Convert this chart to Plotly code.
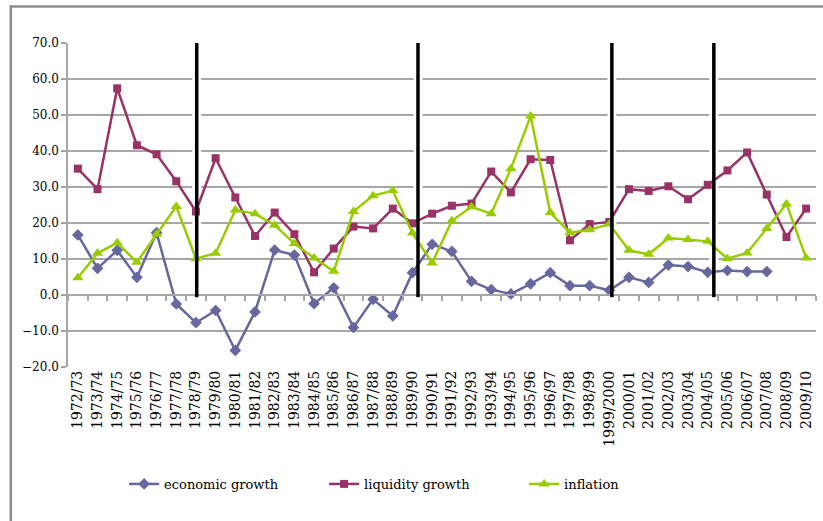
import plotly.graph_objects as go

years = ["1972/73", "1973/74", "1974/75", "1975/76", "1976/77", "1977/78", "1978/79",
         "1979/80", "1980/81", "1981/82", "1982/83", "1983/84", "1984/85", "1985/86",
         "1986/87", "1987/88", "1988/89", "1989/90", "1990/91", "1991/92", "1992/93",
         "1993/94", "1994/95", "1995/96", "1996/97", "1997/98", "1998/99", "1999/2000",
         "2000/01", "2001/02", "2002/03", "2003/04", "2004/05", "2005/06", "2006/07",
         "2007/08", "2008/09", "2009/10"]

economic_growth = [16.7, 7.4, 12.4, 4.9, 17.3, -2.5, -7.7, -4.3, -15.4, -4.7, 12.5,
                   11.1, -2.4, 2.0, -9.0, -1.2, -5.8, 6.2, 14.1, 12.1, 3.8, 1.5, 0.3,
                   3.1, 6.2, 2.6, 2.6, 1.3, 4.9, 3.5, 8.3, 7.9, 6.3, 6.8, 6.5, 6.5,
                   None, None]

liquidity_growth = [35.1, 29.4, 57.4, 41.6, 39.1, 31.6, 23.2, 38.0, 27.1, 16.4, 22.9,
                    16.9, 6.3, 12.9, 19.0, 18.5, 24.0, 19.9, 22.6, 24.8, 25.4, 34.3,
                    28.5, 37.7, 37.5, 15.2, 19.7, 20.3, 29.4, 28.9, 30.2, 26.6, 30.6,
                    34.6, 39.6, 27.9, 16.1, 24.0]

inflation = [4.8, 11.6, 14.5, 9.1, 16.9, 24.6, 10.1, 11.6, 23.6, 22.6, 19.4, 14.3,
             10.3, 6.6, 23.2, 27.6, 29.0, 17.2, 8.9, 20.6, 24.5, 22.6, 35.1, 49.7,
             22.9, 17.3, 18.1, 19.7, 12.4, 11.3, 15.8, 15.4, 14.9, 10.1, 11.7, 18.5,
             25.3, 10.3]

# period breaks (fractional category positions)
breaks = [6.04, 17.28, 27.13, 32.31]

y_ticks = [70, 60, 50, 40, 30, 20, 10, 0, -10, -20]

FONT = "DejaVu Serif"
GRID = "#a6a6a6"

fig = go.Figure()

series = [
    ("economic growth", economic_growth, "#67679f", "diamond", 9),
    ("liquidity growth", liquidity_growth, "#993366", "square", 8),
    ("inflation", inflation, "#99cc00", "triangle-up", 10),
]
for name, vals, color, symbol, size in series:
    fig.add_trace(go.Scatter(
        x=years, y=vals, name=name, mode="lines+markers",
        line=dict(color=color, width=2.5),
        marker=dict(symbol=symbol, size=size, color=color),
        connectgaps=False,
    ))

# category axis drawn along the zero line (tick marks only)
fig.add_trace(go.Scatter(x=years, y=[None] * len(years), xaxis="x2",
                         showlegend=False, hoverinfo="skip", mode="lines"))

for b in breaks:
    fig.add_shape(type="line", xref="x", yref="y", x0=b, x1=b, y0=70, y1=-0.6,
                  line=dict(color="white", width=9), layer="between")
    fig.add_shape(type="line", xref="x", yref="y", x0=b, x1=b, y0=70, y1=-0.6,
                  line=dict(color="black", width=3.5), layer="above")

# chart frame
fig.add_shape(type="rect", xref="paper", yref="paper",
              x0=-0.0765, x1=1.2, y0=-0.6, y1=1.1125,
              line=dict(color="#8c8c8c", width=2.5), layer="below")

fig.update_layout(
    width=823, height=521,
    margin=dict(l=68, r=7, t=43, b=154),
    paper_bgcolor="white", plot_bgcolor="white",
    font=dict(family=FONT, color="black"),
    xaxis=dict(type="category", categoryorder="array", categoryarray=years,
               range=[-0.5, len(years) - 0.5], showgrid=False, showline=False,
               ticks="", tickangle=-90, tickfont=dict(size=14, family=FONT),
               zeroline=False),
    xaxis2=dict(type="category", categoryorder="array", categoryarray=years,
                overlaying="x", anchor="free", position=20 / 90,
                range=[-0.5, len(years) - 0.5], showgrid=False,
                showline=True, linecolor=GRID, linewidth=1.5,
                ticks="outside", tickson="boundaries", ticklen=5,
                tickcolor=GRID, tickwidth=1.5, showticklabels=False),
    yaxis=dict(range=[-20, 70], tickvals=y_ticks, tickformat=".1f",
               showgrid=True, gridcolor=GRID, gridwidth=1.5,
               showline=True, linecolor=GRID, linewidth=1.5,
               ticks="outside", ticklen=5, tickcolor=GRID, tickwidth=1.5,
               zeroline=False, tickfont=dict(size=12, family=FONT)),
    legend=dict(orientation="h", x=0.075, xanchor="left", y=-0.361,
                yanchor="middle", font=dict(size=13, family=FONT),
                entrywidth=155, itemwidth=30, bgcolor="rgba(0,0,0,0)"),
    showlegend=True,
)

fig.write_html("out.html")
